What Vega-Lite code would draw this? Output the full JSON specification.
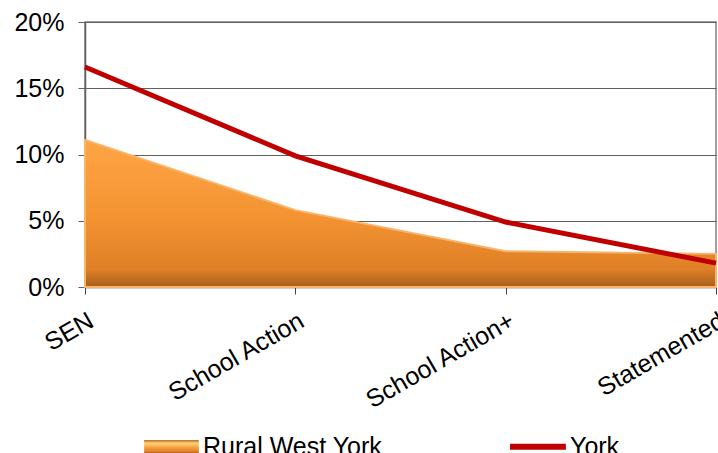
{
  "$schema": "https://vega.github.io/schema/vega-lite/v6.json",
  "width": 631,
  "height": 265,
  "autosize": {"type": "none"},
  "padding": {"left": 85, "top": 22, "right": 2, "bottom": 166},
  "background": "white",
  "config": {
    "font": "Liberation Sans",
    "view": {"stroke": "#808080", "strokeWidth": 1.5}
  },
  "data": {
    "values": [
      {"category": "SEN", "series": "Rural West York", "value": 0.111},
      {"category": "School Action", "series": "Rural West York", "value": 0.058},
      {"category": "School Action+", "series": "Rural West York", "value": 0.027},
      {"category": "Statemented", "series": "Rural West York", "value": 0.025},
      {"category": "SEN", "series": "York", "value": 0.166},
      {"category": "School Action", "series": "York", "value": 0.099},
      {"category": "School Action+", "series": "York", "value": 0.049},
      {"category": "Statemented", "series": "York", "value": 0.018}
    ]
  },
  "encoding": {
    "x": {
      "field": "category",
      "type": "ordinal",
      "sort": ["SEN", "School Action", "School Action+", "Statemented"],
      "scale": {"type": "point", "padding": 0},
      "title": null,
      "axis": {
        "labelAngle": -30,
        "labelAlign": "right",
        "labelBaseline": "top",
        "labelFontSize": 25,
        "labelColor": "black",
        "labelPadding": 14,
        "labelDx": -8,
        "labelDy": -1,
        "tickSize": 7,
        "tickColor": "#404040",
        "domainColor": "#404040",
        "domainWidth": 1.5,
        "labelOverlap": false,
        "labelBound": false
      }
    },
    "y": {
      "field": "value",
      "type": "quantitative",
      "scale": {"domain": [0, 0.2], "nice": false},
      "title": null,
      "axis": {
        "values": [0, 0.05, 0.1, 0.15, 0.2],
        "format": ".0%",
        "labelFontSize": 25,
        "labelColor": "black",
        "labelPadding": 14,
        "tickSize": 7,
        "tickColor": "#606060",
        "domainColor": "#606060",
        "domainWidth": 1.5,
        "gridColor": "#606060",
        "gridWidth": 1
      }
    },
    "stroke": {
      "field": "series",
      "type": "nominal",
      "scale": {"domain": ["Rural West York", "York"], "range": ["#F7B46A", "#C00000"]},
      "title": null,
      "legend": {
        "orient": "none",
        "legendX": 59,
        "legendY": 397,
        "direction": "horizontal",
        "symbolType": "M-1,-0.25H1V0.25H-1Z",
        "symbolSize": 3000,
        "symbolStrokeWidth": 0,
        "symbolOpacity": 1,
        "labelFontSize": 25,
        "labelColor": "black",
        "labelOffset": 4,
        "labelLimit": 400,
        "columnPadding": 127,
        "encode": {
          "symbols": {
            "update": {
              "shape": {"signal": "datum.value === 'York' ? 'M-1.04,-0.11H1V0.11H-1.04Z' : 'M-1,-0.25H1V0.25H-1Z'"},
              "strokeWidth": {"value": 0},
              "fill": {"signal": "datum.value === 'York' ? '#C00000' : {gradient: 'linear', x1: 0, y1: 0, x2: 0, y2: 1, stops: [{offset: 0, color: '#B86A1E'}, {offset: 0.25, color: '#FFD47A'}, {offset: 0.55, color: '#F9A040'}, {offset: 0.85, color: '#E08028'}, {offset: 1, color: '#9A5515'}]}"},
              "opacity": {"value": 1}
            }
          }
        }
      }
    }
  },
  "layer": [
    {
      "transform": [{"filter": "datum.series === 'Rural West York'"}],
      "mark": {
        "type": "area",
        "fill": {
          "gradient": "linear",
          "x1": 0, "y1": 0, "x2": 0, "y2": 1,
          "stops": [
            {"offset": 0, "color": "#FFA545"},
            {"offset": 0.5, "color": "#F49432"},
            {"offset": 0.88, "color": "#DF8028"},
            {"offset": 1, "color": "#A85E1A"}
          ]
        },
        "strokeWidth": 2
      }
    },
    {
      "transform": [{"filter": "datum.series === 'York'"}],
      "mark": {"type": "line", "strokeWidth": 5}
    }
  ]
}
